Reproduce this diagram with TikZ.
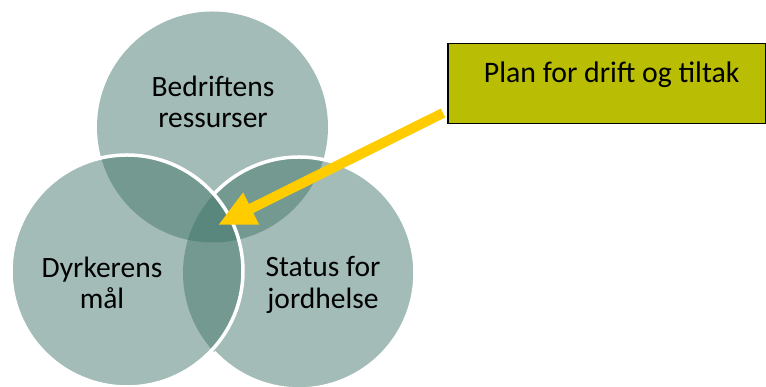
\documentclass[tikz,border=0pt]{standalone}
\usepackage{fontspec}
\setmainfont{Carlito}
\usetikzlibrary{arrows.meta}
\definecolor{sage}{RGB}{63,115,104}
\definecolor{olive}{RGB}{185,190,5}
\definecolor{gul}{RGB}{255,204,0}
\tikzstyle{ring} = [circle, fill=sage, fill opacity=0.48, inner sep=0pt,
    outer sep=0pt, minimum size=232pt]
\tikzstyle{rim} = [draw=white, line width=3.5pt]
\tikzstyle{lbl} = [align=center, font=\fontsize{29.5}{31.6}\selectfont]
\tikzstyle{bt} = [rectangle, draw=black, line width=1.5pt, fill=olive,
    minimum width=318pt, minimum height=80pt, text depth=24pt,
    font=\fontsize{29.8}{31.6}\selectfont]

\begin{document}
\begin{tikzpicture}[x=1pt,y=1pt]
  \useasboundingbox (0,0) rectangle (766,387);
  \node[ring,minimum size=231pt] (res) at (212.5,260) {};
  \node[ring] (status) at (299,114) {};
  \node[ring,rim] (maal) at (127,116) {};
  \draw[rim] (status.-137) arc[start angle=-137, end angle=137, radius=116pt];

  \node[lbl] (t1) at (213,285) {Bedriftens\\ressurser};
  \node[lbl] (t2) at (102,104) {Dyrkerens\\mål};
  \node[lbl] (t3) at (323,102) {Status for\\jordhelse};

  \node[bt,anchor=north west] (plan) at (447,344) {\hspace*{10pt}Plan for drift og tiltak};

  \coordinate (tail) at (443,274);
  \coordinate (tip) at (218,162);
  \draw[gul,line width=10pt,-{Triangle[width=33pt,length=37pt]}] (tail) -- (tip);
\end{tikzpicture}
\end{document}
